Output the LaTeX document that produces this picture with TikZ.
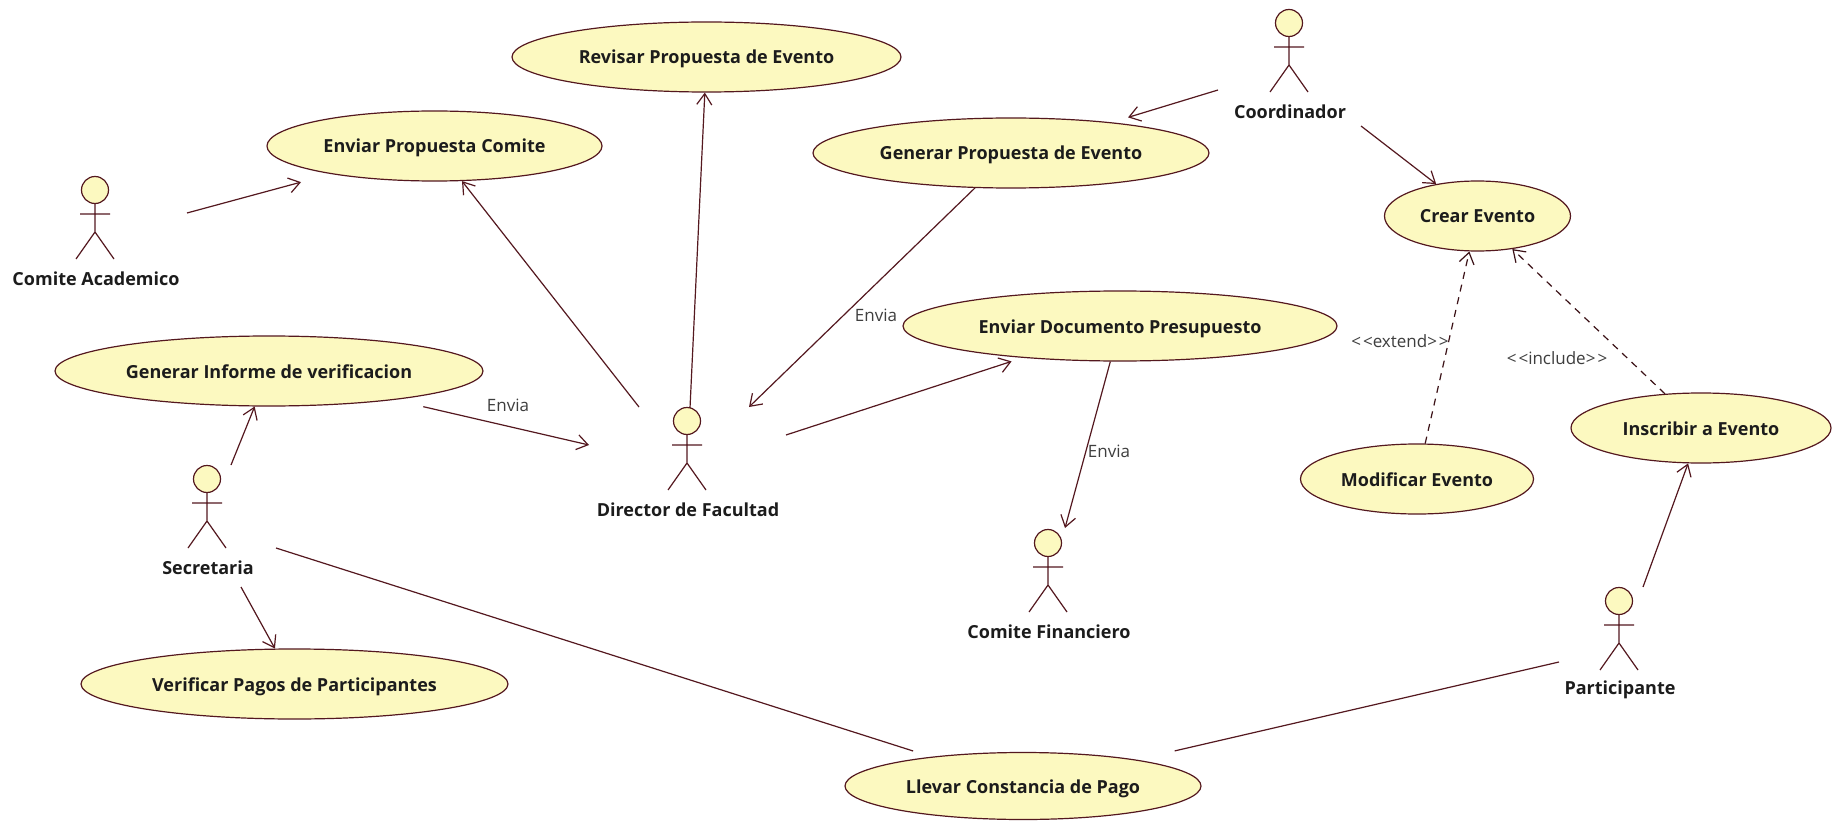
\documentclass[tikz,border=0pt]{standalone}
\usepackage{fontspec}
\setmainfont{Open Sans}
\usetikzlibrary{shapes.geometric,arrows.meta}
\definecolor{ucfill}{HTML}{FCF9C0}
\definecolor{ucline}{HTML}{54181F}
\definecolor{txt}{HTML}{1C1C1C}
\tikzset{
  uc/.style={ellipse,draw=ucline,fill=ucfill,line width=1.2pt,inner sep=0pt,minimum height=70pt,text=txt,text height=14pt,text depth=0pt,font=\fontsize{18}{20}\selectfont\bfseries},
  actorlabel/.style={text=txt,inner sep=0pt,font=\fontsize{18}{20}\selectfont\bfseries},
  note/.style={text=txt!85,inner sep=0pt,font=\fontsize{17}{20}\selectfont},
  limb/.style={draw=ucline,line width=1.2pt},
  head/.style={circle,draw=ucline,fill=ucfill,line width=1.2pt,minimum size=27pt,inner sep=0pt},
  assoc/.style={draw=ucline,line width=1.2pt,-{Straight Barb[length=11pt,width=15pt,line width=1.2pt]}},
  plainassoc/.style={draw=ucline,line width=1.2pt},
  dep/.style={draw=ucline!70!black,line width=1.2pt,dash pattern=on 7pt off 6pt,-{Straight Barb[length=11pt,width=15pt,line width=1.2pt]}}
}
\newcommand{\actorfig}[4]{%
  \begin{scope}[shift={(#2,#3)}]
    \node[head] (#1) at (0,0) {};
    \draw[limb] (0,13.5) -- (0,42) (-15,24) -- (15,24) (-19,69) -- (0,42) -- (19,69);
    \node[actorlabel] (#1label) at (1,89) {#4};
  \end{scope}}
\newcommand{\gtgt}{>\kern2pt>}
\newcommand{\ltlt}{<\kern2pt<}
\begin{document}
\begin{tikzpicture}[x=1pt,y=-1pt]
\useasboundingbox[fill=white] (0,0) rectangle (1842,821);
\node[uc,minimum width=389pt] (revisar) at (706.5,57) {Revisar Propuesta de Evento};
\node[uc,minimum width=335pt] (enviarprop) at (434.5,146) {Enviar Propuesta Comite};
\node[uc,minimum width=396pt] (genprop) at (1011,153) {Generar Propuesta de Evento};
\node[uc,minimum width=186pt] (crear) at (1477.5,216) {Crear Evento};
\node[uc,minimum width=434pt] (enviardoc) at (1120,326) {Enviar Documento Presupuesto};
\node[uc,minimum width=428pt] (geninf) at (269,371) {Generar Informe de verificacion};
\node[uc,minimum width=233pt] (modificar) at (1417,479) {Modificar Evento};
\node[uc,minimum width=260pt] (inscribir) at (1701,428) {Inscribir a Evento};
\node[uc,minimum width=427pt] (verificar) at (294.5,684) {Verificar Pagos de Participantes};
\node[uc,minimum width=356pt,minimum height=67pt] (llevar) at (1023,786) {Llevar Constancia de Pago};
\actorfig{academico}{95}{190}{Comite Academico}
\actorfig{coordinador}{1289}{23}{Coordinador}
\actorfig{director}{687}{421}{Director de Facultad}
\actorfig{secretaria}{207}{479}{Secretaria}
\actorfig{financiero}{1048}{543}{Comite Financiero}
\actorfig{participante}{1619}{601}{Participante}
\coordinate (fAcad) at (187,213);
\coordinate (fDirA) at (639,407);
\coordinate (fDirB) at (690,408);
\coordinate (fDirIn) at (749,407);
\coordinate (fDirC) at (786,435);
\coordinate (fDirInf) at (589,445);
\coordinate (fFin) at (1065,528);
\coordinate (fSecA) at (231,465);
\coordinate (fSecB) at (241,587);
\coordinate (fSecC) at (276,548);
\coordinate (fPartA) at (1559,662);
\coordinate (fPartB) at (1643,587);
\coordinate (fCoA) at (1218,90);
\coordinate (fCoB) at (1361,126);
\draw[assoc,shorten >=31pt] (fAcad) -- (enviarprop);
\draw[assoc] (fDirA) -- (enviarprop);
\draw[assoc] (fDirB) -- (revisar);
\draw[assoc] (genprop) -- (fDirIn);
\draw[assoc,shorten >=11.5pt] (fDirC) -- (enviardoc);
\draw[assoc] (enviardoc) -- (fFin);
\draw[assoc] (fSecA) -- (geninf);
\draw[assoc,shorten <=30pt] (geninf) -- (fDirInf);
\draw[assoc] (fSecB) -- (verificar);
\draw[plainassoc,shorten >=19pt] (fSecC) -- (llevar);
\draw[plainassoc,shorten >=39pt] (fPartA) -- (llevar);
\draw[assoc] (fPartB) -- (inscribir);
\draw[assoc,shorten >=17pt] (fCoA) -- (genprop);
\draw[assoc] (fCoB) -- (crear);
\draw[dep] (modificar) -- (crear);
\draw[dep] (inscribir) -- (crear);
\node[note] (n1) at (508,405) {Envia};
\node[note] (n2) at (876,315) {Envia};
\node[note] (n3) at (1109,451) {Envia};
\node[note] (n4) at (1400,341) {\ltlt extend\gtgt};
\node[note] (n5) at (1557,358) {\ltlt include\gtgt};
\end{tikzpicture}
\end{document}
